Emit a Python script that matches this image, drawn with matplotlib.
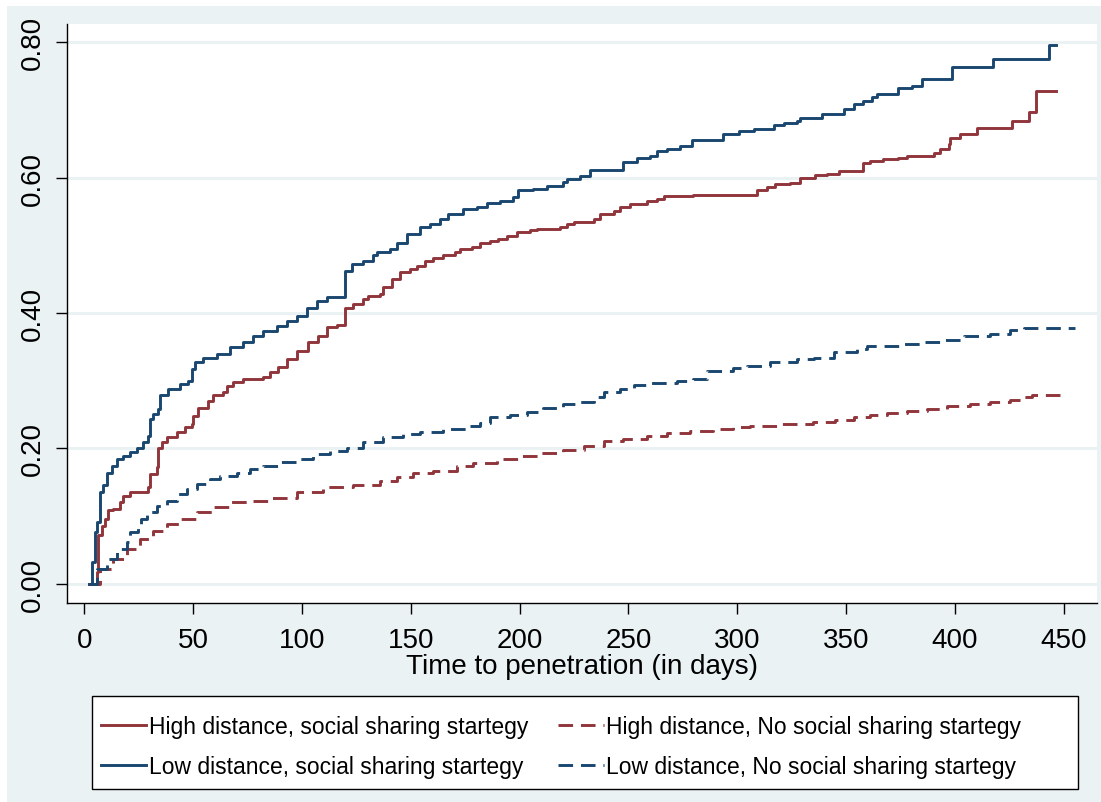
import matplotlib
matplotlib.use("Agg")
import matplotlib.pyplot as plt
from matplotlib.patches import Rectangle
from matplotlib.lines import Line2D

plt.rcParams['font.family'] = ['Liberation Sans', 'DejaVu Sans']

# (day, failure) points of the four Kaplan-Meier curves
high_soc = [(2, 0), (5.7, 0.017), (6.5, 0.071), (8, 0.085), (9.6, 0.095), (11.1, 0.108), (13.4, 0.110),
            (16.5, 0.120), (18, 0.130), (21, 0.135), (25.6, 0.136), (29.5, 0.142), (30.2, 0.162), (33.3, 0.172),
            (34.1, 0.201), (35.6, 0.209), (37.9, 0.216), (42.5, 0.224), (46.3, 0.231), (49.4, 0.236),
            (50.1, 0.248), (52.4, 0.260), (57, 0.270), (59.3, 0.278), (63.9, 0.283), (65.5, 0.292),
            (68.5, 0.298), (73.1, 0.302), (82.3, 0.305), (85.4, 0.312), (89.2, 0.320), (93.1, 0.332),
            (97.7, 0.344), (103, 0.357), (107.6, 0.366), (111.4, 0.379), (116, 0.382), (119.9, 0.408),
            (123.7, 0.413), (128.3, 0.421), (130.6, 0.425), (135.9, 0.428), (137.5, 0.438), (141.3, 0.450),
            (145.1, 0.460), (149.7, 0.465), (152.8, 0.470), (156.6, 0.477), (160.4, 0.481), (165, 0.485),
            (170.4, 0.490), (172.7, 0.494), (178.1, 0.497), (181.9, 0.504), (186.5, 0.507), (190.3, 0.510),
            (194.2, 0.514), (198.8, 0.519), (204.9, 0.522), (208, 0.524), (218.7, 0.527), (221.7, 0.531),
            (224.8, 0.535), (234, 0.539), (237, 0.546), (243.2, 0.551), (246.2, 0.556), (250.8, 0.561),
            (258.5, 0.566), (263.1, 0.568), (266.2, 0.573), (279.9, 0.575), (309.1, 0.582), (313.6, 0.586),
            (317.5, 0.591), (324.4, 0.592), (328.9, 0.599), (335.8, 0.604), (341.2, 0.605), (346.6, 0.610),
            (358, 0.622), (361.1, 0.624), (367.2, 0.627), (374.1, 0.629), (378, 0.632), (390.2, 0.637),
            (393.3, 0.642), (397.1, 0.649), (397.9, 0.659), (402.5, 0.664), (410.1, 0.674), (426.2, 0.684),
            (433.9, 0.697), (437.5, 0.728), (446.6, 0.728)]

high_nosoc = [(2, 0), (7.3, 0.021), (13.4, 0.036), (19.5, 0.051), (25.6, 0.066), (31.8, 0.078), (37.9, 0.088),
              (44, 0.095), (51.7, 0.105), (59.3, 0.113), (67, 0.120), (76.2, 0.122), (85.4, 0.127),
              (97.7, 0.135), (109.9, 0.142), (123.7, 0.146), (135.9, 0.152), (143.6, 0.157), (151.2, 0.164),
              (160.4, 0.167), (171.2, 0.173), (178.8, 0.178), (189.6, 0.184), (200.3, 0.188), (209.5, 0.193),
              (220.2, 0.198), (229.4, 0.203), (238.6, 0.210), (247.7, 0.214), (258.5, 0.218), (267.7, 0.222),
              (278.4, 0.226), (289.1, 0.229), (298.3, 0.232), (306, 0.233), (320, 0.236), (335, 0.239),
              (345, 0.242), (353.5, 0.246), (361.1, 0.249), (368.8, 0.252), (378, 0.255), (387.2, 0.258),
              (396.4, 0.263), (407.1, 0.265), (416.3, 0.268), (425.5, 0.272), (431.6, 0.276), (435.5, 0.279),
              (451.7, 0.279)]

low_soc = [(2, 0), (3.4, 0.032), (5, 0.076), (5.7, 0.091), (7.3, 0.135), (8.8, 0.145), (10.3, 0.164),
           (12.6, 0.174), (14.9, 0.184), (18, 0.189), (21, 0.194), (24.1, 0.201), (27.2, 0.209), (29.5, 0.218),
           (30.2, 0.243), (31.8, 0.251), (34.1, 0.258), (34.8, 0.278), (38.7, 0.288), (44, 0.295), (47.9, 0.300),
           (49.4, 0.317), (50.9, 0.327), (54.7, 0.334), (60.9, 0.339), (67, 0.349), (73.1, 0.357), (77.7, 0.366),
           (82.3, 0.374), (88.5, 0.381), (93.1, 0.388), (97.7, 0.396), (102.3, 0.408), (106.8, 0.418),
           (111.4, 0.423), (119.9, 0.462), (123, 0.472), (128.3, 0.477), (132.9, 0.485), (134.4, 0.490),
           (140.5, 0.494), (143.6, 0.504), (148.2, 0.517), (154.3, 0.527), (158.9, 0.531), (163.5, 0.539),
           (167.3, 0.546), (174.2, 0.554), (180.4, 0.556), (185, 0.563), (191.1, 0.566), (197.2, 0.571),
           (199.5, 0.581), (206.4, 0.583), (212.5, 0.588), (220.2, 0.593), (221.7, 0.598), (227.8, 0.603),
           (232.4, 0.612), (247.7, 0.623), (253.9, 0.629), (260, 0.632), (263.1, 0.640), (267.7, 0.643),
           (273.8, 0.647), (279.2, 0.656), (293.7, 0.664), (300.6, 0.669), (307.5, 0.672), (316.7, 0.678),
           (321.3, 0.681), (327.4, 0.684), (328.9, 0.688), (338.9, 0.694), (348.9, 0.701), (353.5, 0.709),
           (358, 0.714), (361.9, 0.719), (364.2, 0.724), (374.1, 0.733), (380.3, 0.736), (384.9, 0.746),
           (398.7, 0.764), (417.4, 0.775), (443.4, 0.796), (446.6, 0.796)]

low_nosoc = [(2, 0), (5.7, 0.021), (10.3, 0.036), (14.9, 0.051), (19.5, 0.061), (21, 0.076), (24.9, 0.083),
             (26, 0.095), (28.7, 0.105), (33.3, 0.115), (37.9, 0.122), (42.5, 0.132), (47.1, 0.140),
             (51.7, 0.147), (57.8, 0.154), (62.4, 0.159), (70.1, 0.164), (76.2, 0.169), (82.3, 0.174),
             (90, 0.179), (99.2, 0.184), (105.3, 0.191), (113, 0.196), (120.6, 0.201), (128.3, 0.209),
             (137.5, 0.216), (146.6, 0.221), (154.3, 0.224), (165, 0.229), (175.8, 0.233), (181.9, 0.238),
             (186.5, 0.246), (195.7, 0.249), (203.4, 0.254), (211, 0.260), (220.2, 0.265), (226.3, 0.269),
             (234, 0.275), (238.6, 0.283), (246.2, 0.288), (252.4, 0.293), (258.5, 0.297), (272.3, 0.300),
             (279.9, 0.303), (286.1, 0.314), (298.3, 0.318), (304.4, 0.322), (315.2, 0.327), (327.4, 0.332),
             (335.1, 0.334), (344.3, 0.342), (355, 0.347), (359.6, 0.351), (376.4, 0.354), (385.6, 0.357),
             (394.8, 0.360), (404, 0.366), (416.3, 0.369), (425.5, 0.375), (431.6, 0.377), (455.3, 0.377)]

labels = ["High distance, social sharing startegy",
          "Low distance, social sharing startegy",
          "High distance, No social sharing startegy",
          "Low distance, No social sharing startegy"]
x_ticks = [0, 50, 100, 150, 200, 250, 300, 350, 400, 450]
y_ticks = [0.0, 0.2, 0.4, 0.6, 0.8]

navy = '#1A476F'
maroon = '#90353B'
bg = '#EAF2F3'

fig = plt.figure(figsize=(11.01, 8.03), dpi=100)
fig.patch.set_facecolor('white')
W, H = 1101.0, 803.0

# graph region (light bluish) behind everything
fig.patches.append(Rectangle((7 / W, 0), 1 - 7 / W, 1 - 7 / H, transform=fig.transFigure,
                             facecolor=bg, edgecolor='none', zorder=-1))

ax = fig.add_axes([67 / W, 1 - 604 / H, 1030 / W, 579 / H])
ax.set_facecolor('white')

dash = (0, (5, 2.7))
series = [(high_soc, maroon, '-'), (low_soc, navy, '-'),
          (high_nosoc, maroon, dash), (low_nosoc, navy, dash)]
handles = []
for pts, col, ls in series:
    xs = [p[0] for p in pts]
    ys = [p[1] for p in pts]
    ln, = ax.plot(xs, ys, drawstyle='steps-post', color=col, lw=2.1, linestyle=ls, zorder=3)
    handles.append(Line2D([], [], color=col, lw=2.1, linestyle=ls))

ax.set_xlim(-7.9, 465.3)
ax.set_ylim(-0.0288, 0.8271)

ax.set_xticks(x_ticks)
ax.set_yticks(y_ticks)
ax.set_yticklabels(['%.2f' % v for v in y_ticks])
ax.tick_params(axis='both', direction='out', length=8, width=1, color='black', labelsize=20)
ax.tick_params(axis='x', pad=9)
ax.tick_params(axis='y', pad=7)
plt.setp(ax.get_yticklabels(), rotation=90, va='center')

ax.yaxis.grid(True, color=bg, lw=2.2)
ax.xaxis.grid(False)
ax.set_axisbelow(True)

for s in ['top', 'right']:
    ax.spines[s].set_visible(False)
for s in ['left', 'bottom']:
    ax.spines[s].set_linewidth(1)
    ax.spines[s].set_color('black')

ax.set_xlabel('Time to penetration (in days)', fontsize=20, labelpad=0)

# legend box
fig.patches.append(Rectangle((92 / W, 1 - 790 / H), 986 / W, 93 / H, transform=fig.transFigure,
                             facecolor='white', edgecolor='black', lw=1, zorder=1))
leg = fig.legend(handles, labels, loc='upper left', bbox_to_anchor=(96 / W, 1 - 711 / H),
                 ncol=2, frameon=False, fontsize=16.5, handlelength=2.0, handletextpad=0.1,
                 columnspacing=1.3, labelspacing=0.75, borderpad=0.2, borderaxespad=0)

fig.savefig('out.png', dpi=100, facecolor='white')
